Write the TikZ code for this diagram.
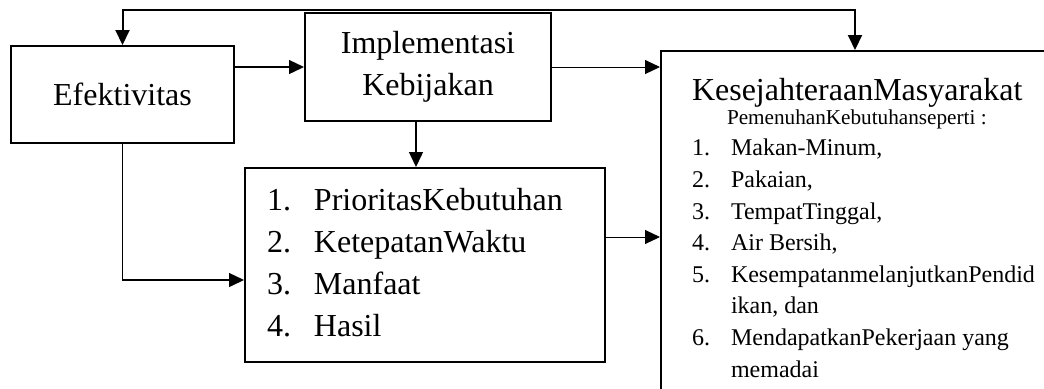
\documentclass[tikz,border=0pt]{standalone}
\usepackage{fontspec}
\setmainfont{Liberation Serif}
\usetikzlibrary{arrows.meta,positioning,calc}
\newcommand{\prioitem}[2]{\makebox[23.5pt][l]{#1}#2\strut\par}
\newcommand{\kesitem}[2]{\makebox[19.5pt][l]{#1}#2\par}
\newcommand{\kesnext}[1]{\hspace*{19.5pt}#1\par}

\begin{document}
\begin{tikzpicture}[x=0.5pt, y=-0.5pt, font=\fontsize{16pt}{21pt}\selectfont,
  box/.style={draw, line width=1pt, inner sep=0pt},
  link/.style={line width=0.7pt, -{Triangle[length=7.5pt,width=7pt]}}]
  \useasboundingbox (0,0) rectangle (1044,388);
  \clip (0,0) rectangle (1044,388);
  \node[box, minimum width=111.5pt, minimum height=48.5pt] (efek) at (122.5,94.5) {Efektivitas};
  \node[box, align=center, minimum width=123pt, minimum height=54pt, right=34.5pt of efek, yshift=13.75pt] (impl) {Implementasi\\Kebijakan};
  \node[box, align=flush left, text width=158pt, inner xsep=11pt, minimum height=97pt, below=22.5pt of impl, xshift=-1.5pt] (prio) {%
    \prioitem{1.}{PrioritasKebutuhan}
    \prioitem{2.}{KetepatanWaktu}
    \prioitem{3.}{Manfaat}
    \prioitem{4.}{Hasil}};
  \node[box, align=flush left, text width=190pt, inner xsep=15.5pt, inner ysep=13.5pt, right=54pt of impl.north east, anchor=north west, yshift=-19pt] (kes) {%
    {\fontsize{16pt}{16pt}\selectfont KesejahteraanMasyarakat\par}
    {\fontsize{10.6pt}{12pt}\selectfont\hspace*{17.5pt}PemenuhanKebutuhanseperti :\par}
    {\fontsize{12pt}{15.8pt}\selectfont
    \kesitem{1.}{Makan-Minum,}
    \kesitem{2.}{Pakaian,}
    \kesitem{3.}{TempatTinggal,}
    \kesitem{4.}{Air Bersih,}
    \kesitem{5.}{KesempatanmelanjutkanPendid}
    \kesnext{ikan, dan}
    \kesitem{6.}{MendapatkanPekerjaan yang}
    \kesnext{memadai}}};
  \draw[link] (efek.east |- impl.west) -- (impl.west);
  \draw[link, line width=0.5pt] (impl.east) -- (impl.east -| kes.west);
  \draw[link] ([xshift=-6pt]impl.south) -- ([xshift=-6pt]impl.south |- prio.north);
  \draw[link] (efek.south) |- ([yshift=-7.5pt]prio.west);
  \draw[link, line width=0.5pt] ([yshift=14pt]prio.east) -- ([yshift=14pt]prio.east -| kes.west);
  \draw[link, line width=1pt, {Triangle[length=7.5pt,width=7pt]}-{Triangle[length=7.5pt,width=7pt]}] (efek.north) -- ++(0,-35) -| ([xshift=97.5pt]kes.north west);
\end{tikzpicture}
\end{document}
